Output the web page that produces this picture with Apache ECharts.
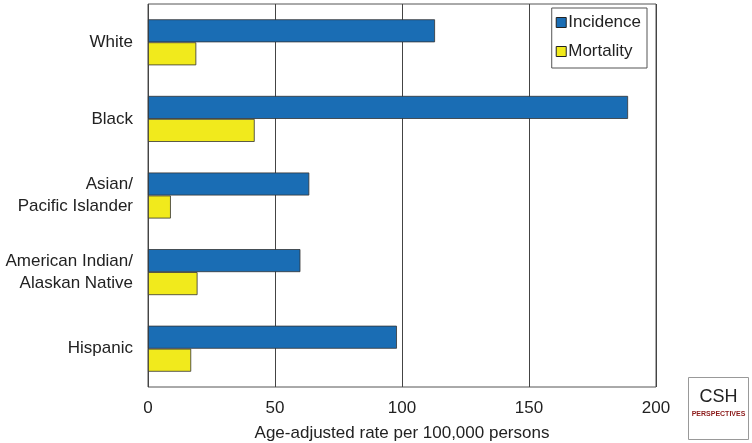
<!DOCTYPE html>
<html lang="en">
<head>
    <meta charset="UTF-8">
    <title>Incidence and mortality by race/ethnicity</title>
    <script src="https://cdn.jsdelivr.net/npm/echarts@6/dist/echarts.min.js"></script>
    <style>
        html, body { margin: 0; padding: 0; background: #fff; }
    </style>
</head>
<body>
    <div id="chart" style="width: 752px; height: 443px;"></div>
    <script>
        // data
        const groups = ['White', 'Black', 'Asian/\nPacific Islander', 'American Indian/\nAlaskan Native', 'Hispanic'];
        const incidence = [113, 189, 63.5, 60, 98];
        const mortality = [19, 42, 9, 19.5, 17];

        const fontFamily = 'Liberation Sans, Arial, sans-serif';
        var myChart = echarts.init(document.getElementById('chart'));

        const option = {
            animation: false,
            textStyle: { fontFamily: fontFamily },
            grid: {
                left: 148, right: 96, top: 4, bottom: 56,
                outerBoundsMode: 'none',
                containLabel: false,
                show: true, borderColor: '#555', borderWidth: 1
            },
            legend: {
                right: 105, top: 8,
                orient: 'vertical',
                icon: 'rect',
                itemWidth: 10, itemHeight: 10, itemGap: 12,
                padding: [6, 6, 8, 4],
                borderColor: '#555', borderWidth: 1,
                backgroundColor: '#fff',
                itemStyle: { borderColor: '#222', borderWidth: 1 },
                textStyle: { fontSize: 17, color: '#222', fontFamily: fontFamily, padding: [0, 0, 0, -3] },
                data: ['Incidence', 'Mortality']
            },
            xAxis: {
                type: 'value',
                min: 0, max: 200, interval: 50,
                name: 'Age-adjusted rate per 100,000 persons',
                nameLocation: 'middle', nameGap: 38,
                nameTextStyle: { fontSize: 17, color: '#222' },
                axisLine: { show: false },
                axisTick: { show: false },
                axisLabel: { fontSize: 17, color: '#222', margin: 13 },
                splitLine: { show: true, lineStyle: { color: '#444', width: 1 } }
            },
            yAxis: {
                type: 'category',
                inverse: true,
                data: groups,
                axisLine: { show: false },
                axisTick: { show: false },
                axisLabel: { fontSize: 17, color: '#222', margin: 15, lineHeight: 22, align: 'right' }
            },
            series: [
                {
                    name: 'Incidence', type: 'bar', data: incidence,
                    barWidth: 23, barGap: '0%',
                    itemStyle: { color: '#1a6db4', borderColor: '#333', borderWidth: 0.8 }
                },
                {
                    name: 'Mortality', type: 'bar', data: mortality,
                    barWidth: 23, barGap: '0%',
                    itemStyle: { color: '#f1ea1c', borderColor: '#333', borderWidth: 0.8 }
                }
            ],
            graphic: [
                {
                    type: 'group', left: 688, top: 377,
                    children: [
                        { type: 'rect', shape: { x: 0, y: 0, width: 60, height: 62 }, style: { fill: '#fff', stroke: '#999', lineWidth: 1 } },
                        { type: 'text', style: { x: 30, y: 20, text: 'CSH', fontSize: 18, fill: '#222', align: 'center', verticalAlign: 'middle', fontFamily: fontFamily } },
                        { type: 'text', style: { x: 30, y: 37, text: 'PERSPECTIVES', fontSize: 7, fontWeight: 'bold', fill: '#8b1a1a', align: 'center', verticalAlign: 'middle', fontFamily: fontFamily } }
                    ]
                }
            ]
        };

        myChart.setOption(option);
    </script>
</body>
</html>
